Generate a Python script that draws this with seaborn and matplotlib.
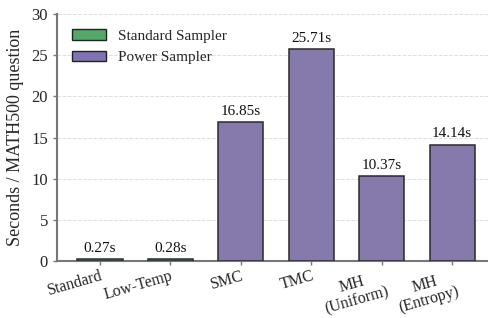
import matplotlib
matplotlib.use("Agg")
import matplotlib.pyplot as plt
import seaborn as sns
import pandas as pd
from matplotlib.patches import Patch

methods = ["Standard", "Low-Temp", "SMC", "TMC", "MH\n(Uniform)", "MH\n(Entropy)"]
seconds = [0.27, 0.28, 16.85, 25.71, 10.37, 14.14]
groups = ["Standard Sampler", "Standard Sampler", "Power Sampler", "Power Sampler", "Power Sampler", "Power Sampler"]
yticks = [0, 5, 10, 15, 20, 25, 30]

green = "#55a868"
purple = "#8172b3"
palette = {"Standard Sampler": green, "Power Sampler": purple}

sns.set_theme(style="white")
plt.rcParams["font.family"] = ["Liberation Serif", "DejaVu Serif"]
plt.rcParams["mathtext.fontset"] = "stix"

df = pd.DataFrame({"method": methods, "seconds": seconds, "group": groups})

fig, ax = plt.subplots(figsize=(4.89, 3.18), dpi=100)
sns.barplot(data=df, x="method", y="seconds", hue="group", palette=palette,
            dodge=False, width=0.64, edgecolor="#2a2a2a", linewidth=1.1,
            legend=False, ax=ax, zorder=3)

for p, v in zip(ax.patches, seconds):
    ax.annotate(f"{v:.2f}s", (p.get_x() + p.get_width() / 2, p.get_height()),
                xytext=(0, 3), textcoords="offset points", ha="center", va="bottom",
                fontsize=11, color="#111111")

ax.set_ylim(0, 30)
ax.set_yticks(yticks)
ax.set_xlim(-0.61, 5.51)
ax.set_xlabel("")
ax.set_ylabel("Seconds / MATH500 question", fontsize=13, labelpad=5)
ax.yaxis.grid(True, linestyle="--", color="#dddddd", linewidth=0.7, zorder=0)
ax.set_axisbelow(True)
for s in ["top", "right"]:
    ax.spines[s].set_visible(False)
for s in ["left", "bottom"]:
    ax.spines[s].set_color("#777777")
    ax.spines[s].set_linewidth(1.5)
ax.tick_params(axis="both", which="both", direction="out", length=3, width=1,
               color="#777777", labelsize=12, left=True, bottom=True)
ax.tick_params(axis="x", pad=2, labelsize=11.5)
plt.setp(ax.get_xticklabels(), rotation=16, ha="right", va="top",
         rotation_mode="anchor", multialignment="center", linespacing=1.0)

handles = [Patch(facecolor=green, edgecolor="#222222", label="Standard Sampler"),
           Patch(facecolor=purple, edgecolor="#222222", label="Power Sampler")]
ax.legend(handles=handles, loc="upper left", frameon=False, fontsize=11,
          handlelength=2.2, borderaxespad=0.6)

fig.subplots_adjust(left=0.1166, right=0.998, top=0.956, bottom=0.179)
fig.savefig("out.png", dpi=100)
